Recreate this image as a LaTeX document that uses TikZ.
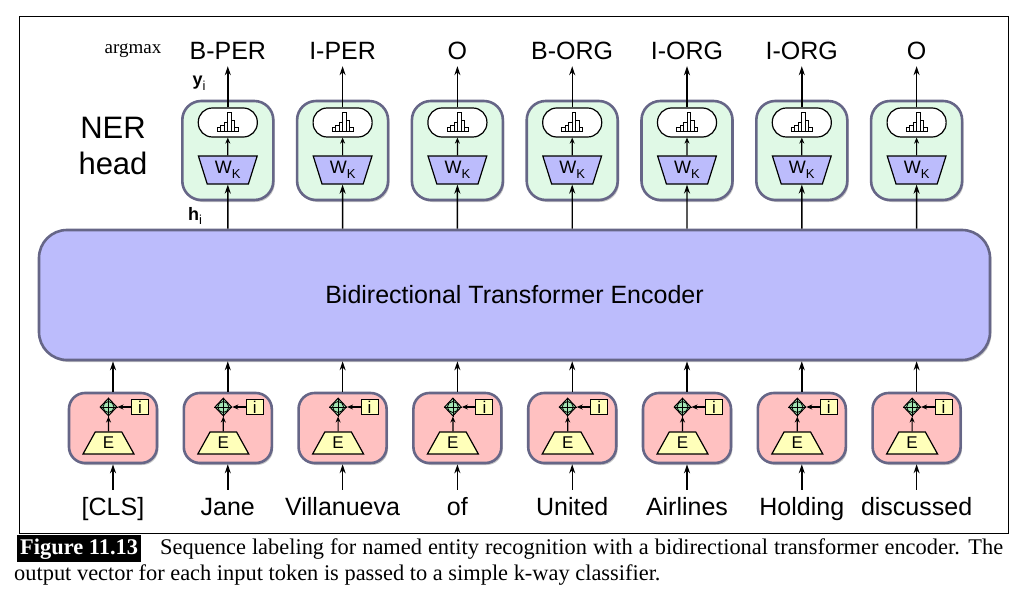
\documentclass[tikz,border=0pt]{standalone}
\usepackage{fontspec}
\setmainfont{Liberation Serif}
\setsansfont{Liberation Sans}
\usetikzlibrary{arrows.meta,shapes.geometric,shadows}

\begin{document}
\begin{tikzpicture}[x=1pt,y=-1pt,font=\sffamily]
    % Local styling definitions
    \tikzset{>={Stealth[length=9pt,width=6pt]}} % set arrow head style

    % Color definitions
    \definecolor{edgecol}{HTML}{666687}
    \definecolor{headcol}{HTML}{E0F9E6}
    \definecolor{enccol}{HTML}{BCBCFC}
    \definecolor{embcol}{HTML}{FFC1C1}
    \definecolor{poscol}{HTML}{FFFFBA}
    \definecolor{pluscol}{HTML}{A3E6B4}

    % Lowered subscript (sans)
    \def\lowsub#1{\raisebox{-4.5pt}{\fontsize{13}{13}\selectfont\mdseries #1}}

    % TikZ style definitions
    \tikzstyle{flow}    =[->,line width=1.4pt]
    \tikzstyle{tinyflow}=[-{Stealth[length=6pt,width=5pt]},line width=1.2pt]
    \tikzstyle{block}   =[draw=edgecol,line width=2.6pt,inner sep=0pt,
                          drop shadow={shadow xshift=1.4pt,shadow yshift=-2pt,opacity=0.45}]
    \tikzstyle{headbox} =[block,fill=headcol,rounded corners=19pt,
                          minimum width=91pt,minimum height=99pt]
    \tikzstyle{embbox}  =[block,fill=embcol,rounded corners=16pt,
                          minimum width=88pt,minimum height=70pt]
    \tikzstyle{encoder} =[block,fill=enccol,rounded corners=28pt,
                          minimum width=951pt,minimum height=130pt,
                          font=\sffamily\fontsize{25}{30}\selectfont]
    \tikzstyle{softbox} =[draw,line width=1.2pt,fill=white,rounded corners=14pt,
                          minimum width=59pt,minimum height=29pt,inner sep=0pt]
    \tikzstyle{wkbox}   =[draw,line width=1.2pt,fill=enccol,trapezium,shape border rotate=180,
                          trapezium stretches=true,trapezium left angle=72,trapezium right angle=72,
                          minimum width=59pt,minimum height=28pt,inner sep=0pt,
                          font=\sffamily\fontsize{18}{20}\selectfont]
    \tikzstyle{Ebox}    =[draw,line width=1.2pt,fill=poscol,trapezium,
                          trapezium stretches=true,trapezium left angle=66,trapezium right angle=66,
                          minimum width=51pt,minimum height=22pt,inner sep=0pt,
                          font=\sffamily\fontsize{17}{18}\selectfont]
    \tikzstyle{posbox}  =[draw,line width=1pt,fill=poscol,minimum width=17pt,minimum height=15pt,
                          inner sep=0pt,font=\sffamily\fontsize{17}{18}\selectfont]
    \tikzstyle{plusnode}=[draw,line width=1pt,fill=pluscol,diamond,
                          minimum width=17pt,minimum height=18pt,inner sep=0pt]
    \tikzstyle{tag}     =[anchor=base,text height=18pt,text depth=0pt,inner sep=6pt,
                          font=\sffamily\fontsize{25}{30}\selectfont]
    \tikzstyle{word}    =[anchor=base,text height=18pt,text depth=0pt,inner sep=7pt,
                          font=\sffamily\fontsize{25}{30}\selectfont]
    \tikzstyle{captext} =[anchor=base west,inner sep=0pt,font=\rmfamily\fontsize{22.4}{26}\selectfont]

    % Page and frame
    \fill[white] (0,0) rectangle (1017,599);
    \useasboundingbox (0,0) rectangle (1017,599);
    \draw[line width=0.9pt] (19,16) rectangle (1008,533);

    % Encoder
    \node[encoder] (enc) at (514.5,295) {Bidirectional Transformer Encoder};

    % NER heads
    \foreach \k/\lbl in {1/B-PER,2/I-PER,3/O,4/B-ORG,5/I-ORG,6/I-ORG,7/O}{
      \pgfmathsetmacro\cx{113+114.8*\k}
      \node[headbox] (head\k) at (\cx,150.5) {};
      \node[softbox] (soft\k) at (\cx,122.5) {};
      \foreach \b/\h in {0/4,1/6,2/9,3/19,4/11,5/4}
        \draw[line width=0.8pt,fill=white] (\cx-10.5+3.5*\b,131.5) rectangle ++(3.5,-\h);
      \node[wkbox] (wk\k) at (\cx,170) {W\lowsub{K}\hspace{1pt}};
      \node[tag] (tag\k) at (\cx,60) {\lbl};
      \draw[flow] (wk\k |- enc.north) -- (wk\k.south);
      \draw[tinyflow] (wk\k) -- (soft\k);
      \draw[flow] (soft\k) -- (tag\k);
    }

    % Embeddings
    \foreach \k/\wrd in {0/[CLS],1/Jane,2/Villanueva,3/of,4/United,5/Airlines,6/Holding,7/discussed}{
      \pgfmathsetmacro\cx{113+114.8*\k}
      \node[embbox] (emb\k) at (\cx,428) {};
      \node[plusnode] (plus\k) at (\cx-4.5,407) {};
      \draw[line width=0.8pt] (plus\k.center) circle (5.5);
      \draw[line width=0.8pt] (plus\k.north) -- (plus\k.south) (plus\k.west) -- (plus\k.east);
      \node[posbox] (pos\k) at (\cx+27,407) {i};
      \node[Ebox] (E\k) at (\cx-4.5,443) {E};
      \draw[tinyflow] (E\k) -- (plus\k);
      \draw[tinyflow] (pos\k) -- (plus\k);
      \draw[flow] (emb\k) -- (emb\k |- enc.south);
      \node[word] (word\k) at (\cx,515) {\wrd};
      \draw[flow] (word\k) -- (emb\k);
    }

    % Labels
    \node[anchor=base,font=\rmfamily\fontsize{19}{22}\selectfont] (amax) at (133,54) {argmax};
    \node[anchor=base,font=\sffamily\bfseries\fontsize{18}{20}\selectfont] (ylbl) at (199,86) {y\lowsub{i}};
    \node[anchor=base,font=\sffamily\bfseries\fontsize{18}{20}\selectfont] (hlbl) at (195,220) {h\lowsub{i}};
    \node[align=center,font=\sffamily\fontsize{31}{36}\selectfont] (ner) at (113,146) {NER\\head};

    % Caption
    \node[anchor=base west,fill=black,text=white,inner sep=3pt,
          font=\rmfamily\bfseries\fontsize{22.4}{26}\selectfont] (fig) at (17,554) {Figure 11.13};
    \node[captext] (cap1) at (160,554)
      {\makebox[843pt][s]{Sequence labeling for named entity recognition with a bidirectional transformer encoder. The}};
    \node[captext] (cap2) at (14,580)
      {output vector for each input token is passed to a simple k-way classifier.};
\end{tikzpicture}
\end{document}
